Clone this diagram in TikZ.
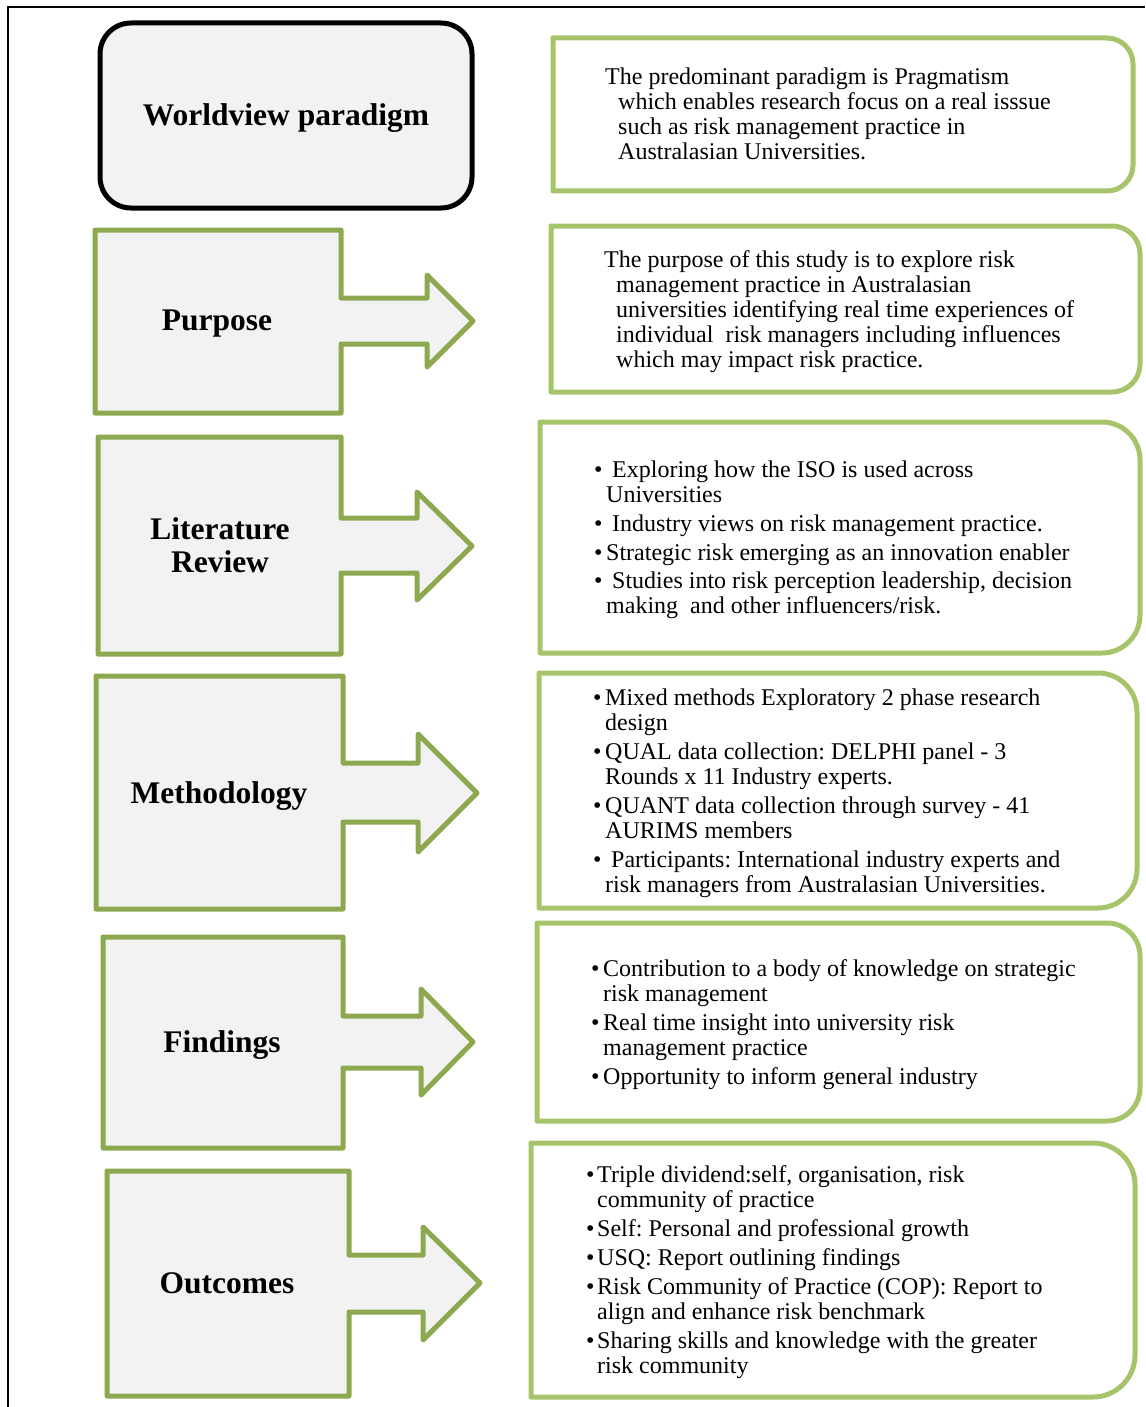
\documentclass[tikz,border=0pt]{standalone}
\usepackage{fontspec}
\setmainfont{Liberation Serif}
\frenchspacing
\definecolor{arrowgreen}{RGB}{140,169,80}
\definecolor{panelgreen}{RGB}{166,196,106}
\definecolor{panelfill}{RGB}{242,242,242}
\tikzset{
  callout/.style={draw=arrowgreen, fill=panelfill, line width=5pt, line join=round},
  heading/.style={font=\fontsize{31.5}{33}\selectfont\bfseries, align=center, inner sep=0pt},
  panel/.style={draw=panelgreen, line width=5pt, line join=round},
  % anchored at the baseline of the last line
  paneltext/.style={font=\fontsize{24}{25}\selectfont\frenchspacing, align=left, anchor=base west, inner sep=0pt},
}
% bullet with a fixed-width slot
\newcommand{\bul}[1][12pt]{\makebox[#1][l]{•}}
% panel with square left corners and rounded right corners: left, top, right, bottom, radius
\newcommand{\sidepanel}[5]{%
  \draw[panel] (#1,#4) -- (#1,#2) -- ({#3-#5},#2)
    arc[start angle=90,end angle=0,radius=#5pt] -- (#3,{#4-#5})
    arc[start angle=0,end angle=-90,radius=#5pt] -- cycle;}
\begin{document}
\begin{tikzpicture}[x=1pt,y=-1pt]
\useasboundingbox (0,0) rectangle (1145,1407);
% outer frame
\draw[line width=2.5pt] (1145,7) -- (8,7) -- (8,1407);

% worldview box
\node[draw=black, line width=5pt, fill=panelfill, rounded corners=31pt,
      minimum width=372pt, minimum height=185pt] (wvbox) at (286,115.5) {};
\node[heading] (wv) at (286,118.5) {Worldview paradigm};

% arrow callouts
\draw[callout] (95,230) -- (341,230) -- (341,298) -- (427,298) -- (427,275) -- (473,321)
  -- (427,367) -- (427,344) -- (341,344) -- (341,413) -- (95,413) -- cycle;
\node[heading] (purpose) at (217,324) {Purpose};

\draw[callout] (98,437) -- (341,437) -- (341,518) -- (417,518) -- (417,492) -- (472,546)
  -- (417,600) -- (417,573) -- (341,573) -- (341,654) -- (98,654) -- cycle;
\node[heading] (litrev) at (220,545) {Literature\\Review};

\draw[callout] (96,676) -- (343,676) -- (343,763) -- (418,763) -- (418,734) -- (477,793)
  -- (418,852) -- (418,822) -- (343,822) -- (343,909) -- (96,909) -- cycle;
\node[heading] (method) at (219,796) {Methodology};

\draw[callout] (103,937) -- (343,937) -- (343,1016) -- (421,1016) -- (421,989) -- (473,1042)
  -- (421,1095) -- (421,1068) -- (343,1068) -- (343,1148) -- (103,1148) -- cycle;
\node[heading] (findings) at (222,1045) {Findings};

\draw[callout] (107,1171) -- (349,1171) -- (349,1255) -- (423,1255) -- (423,1227) -- (480,1283)
  -- (423,1340) -- (423,1312) -- (349,1312) -- (349,1396) -- (107,1396) -- cycle;
\node[heading] (outcomes) at (227,1283) {Outcomes};

% description panels
\sidepanel{553}{38}{1133}{191}{26}
\sidepanel{551}{226}{1140}{392}{28}
\sidepanel{540}{422}{1140}{653}{38}
\sidepanel{539}{673}{1137}{908}{39}
\sidepanel{537}{923}{1140}{1121}{33}
\sidepanel{531}{1143}{1135}{1397}{42}

\node[paneltext] (wvtext) at (605,160) {The predominant paradigm is Pragmatism\\
  \hspace*{13pt}which enables research focus on a real isssue\\
  \hspace*{13pt}such as risk management practice in\\
  \hspace*{13pt}Australasian Universities.};

\node[paneltext] (purposetext) at (604,367) {The purpose of this study is to explore risk\\
  \hspace*{12pt}management practice in Australasian\\
  \hspace*{12pt}universities identifying real time experiences of\\
  \hspace*{12pt}individual\ \ risk managers including influences\\
  \hspace*{12pt}which may impact risk practice.};

\node[paneltext] (littext) at (594,613) {\bul\ Exploring how the ISO is used across\\
  \hspace*{12pt}Universities\\[4pt]
  \bul\ Industry views on risk management practice.\\[4pt]
  \bul Strategic risk emerging as an innovation enabler\\[3pt]
  \bul\ Studies into risk perception leadership, decision\\
  \hspace*{12pt}making\ \ and other influencers/risk.};

\node[paneltext] (methodtext) at (593,892) {\bul Mixed methods Exploratory 2 phase research\\
  \hspace*{12pt}design\\[4pt]
  \bul QUAL data collection: DELPHI panel - 3\\
  \hspace*{12pt}Rounds x 11 Industry experts.\\[4pt]
  \bul QUANT data collection through survey - 41\\
  \hspace*{12pt}AURIMS members\\[4pt]
  \bul\ Participants: International industry experts and\\
  \hspace*{12pt}risk managers from Australasian Universities.};

\node[paneltext] (findtext) at (591,1084) {\bul Contribution to a body of knowledge on strategic\\
  \hspace*{12pt}risk management\\[4pt]
  \bul Real time insight into university risk\\
  \hspace*{12pt}management practice\\[4pt]
  \bul Opportunity to inform general industry};

\node[paneltext] (outtext) at (586,1373) {\bul[11pt]Triple dividend:self, organisation, risk\\
  \hspace*{11pt}community of practice\\[4pt]
  \bul[11pt]Self: Personal and professional growth\\[4pt]
  \bul[11pt]USQ: Report outlining findings\\[4pt]
  \bul[11pt]Risk Community of Practice (COP): Report to\\
  \hspace*{11pt}align and enhance risk benchmark\\[4pt]
  \bul[11pt]Sharing skills and knowledge with the greater\\
  \hspace*{11pt}risk community};
\end{tikzpicture}
\end{document}
